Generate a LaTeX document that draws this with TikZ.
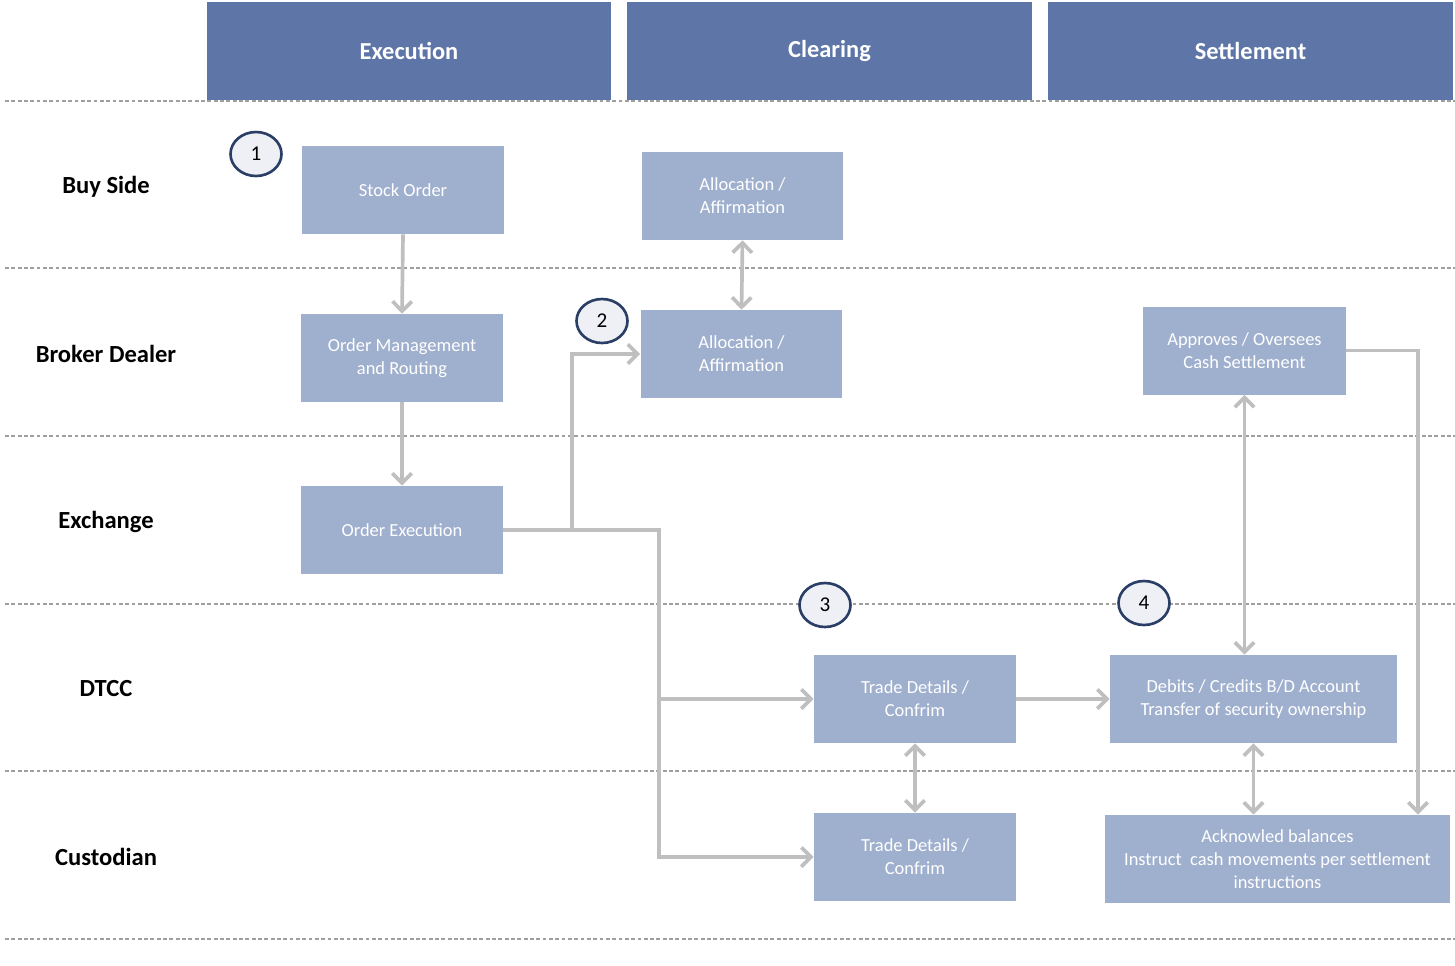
\documentclass[tikz,border=0pt]{standalone}
\usepackage{fontspec}
\setmainfont{Carlito}
\usetikzlibrary{arrows.meta, positioning, shapes.geometric}

\definecolor{headblue}{RGB}{94,117,168}
\definecolor{boxblue}{RGB}{159,175,206}
\definecolor{flowgray}{RGB}{191,191,191}
\definecolor{ringnavy}{RGB}{43,63,102}
\definecolor{ringfill}{RGB}{238,240,246}

\tikzset{
  header/.style={rectangle, fill=headblue, text=white, font=\bfseries\fontsize{13.9}{16}\selectfont,
    minimum width=8.1cm, minimum height=1.96cm, inner sep=0pt},
  lane/.style={font=\bfseries\fontsize{14}{16}\selectfont, text=black},
  procbox/.style={rectangle, fill=boxblue, text=white, align=center, font=\fontsize{10.5}{13}\selectfont,
    minimum height=1.76cm, minimum width=4.04cm, inner sep=0pt},
  stepmark/.style={ellipse, draw=ringnavy, fill=ringfill, line width=1.5pt, minimum width=1.02cm,
    minimum height=0.88cm, inner sep=0pt, font=\fontsize{12}{14}\selectfont},
  divider/.style={draw=gray!75, dash pattern=on 2.2pt off 1.4pt, line width=0.6pt},
  flow/.style={draw=flowgray, line width=2.1pt, -{Straight Barb[length=5.5pt, width=11pt]}},
  bothflow/.style={flow, {Straight Barb[length=5.5pt, width=11pt]}-{Straight Barb[length=5.5pt, width=11pt]}},
}

\begin{document}
\begin{tikzpicture}[x=0.02cm, y=-0.02cm]
  \useasboundingbox (0,0) rectangle (1455,965);

  %► Lane dividers
  \foreach \ly in {101,268,436,604,771,939}
    \draw[divider] (5,\ly) -- (1455,\ly);

  %► Phase headers
  \node[header] (hexe) at (409,51)    {Execution};
  \node[header] (hclr) at (829.5,51)  {Clearing};
  \node[header] (hset) at (1250.5,51) {Settlement};

  %► Lane labels
  \node[lane] (lbuy)  at (106,187) {Buy Side};
  \node[lane] (lbrk)  at (106,354) {Broker Dealer};
  \node[lane] (lexch) at (106,522) {Exchange};
  \node[lane] (ldtcc) at (106,689) {DTCC};
  \node[lane] (lcust) at (106,857) {Custodian};

  %► Process boxes
  \node[procbox] (so) at (403,190)   {Stock Order};
  \node[procbox] (om) at (402,358)   {Order Management\\and Routing};
  \node[procbox] (oe) at (402,530)   {Order Execution};
  \node[procbox] (at) at (742.5,196) {Allocation /\\Affirmation};
  \node[procbox] (ab) at (741.5,354) {Allocation /\\Affirmation};
  \node[procbox, minimum width=4.06cm] (ap) at (1244.5,350.5) {Approves / Oversees\\Cash Settlement};
  \node[procbox] (td) at (915,699)   {Trade Details /\\Confrim};
  \node[procbox, minimum width=5.74cm] (db) at (1253.5,699) {Debits / Credits B/D Account\\Transfer of security ownership};
  \node[procbox] (tc) at (915,857)   {Trade Details /\\Confrim};
  \node[procbox, minimum width=6.9cm] (ak) at (1277.5,859) {Acknowled balances\\Instruct\ \ cash movements per settlement\\instructions};

  %► Fork points
  \coordinate (forkA) at (572,530);
  \coordinate (forkB) at (659,530);
  \coordinate (turnC) at (1418,350.5);

  %► Connectors
  \draw[flow] (so.south) -- (om.north);
  \draw[flow] (om.south) -- (oe.north);
  \draw[bothflow] (at.south) -- (ab.north);
  \draw[flow] (oe.east) -- (forkA) |- (ab.west);
  \draw[flow] (forkA) -- (forkB) |- (tc.west);
  \draw[flow] (forkB) |- (td.west);
  \draw[flow] (td.east) -- (db.west);
  \draw[bothflow] (td.south) -- (tc.north);
  \draw[bothflow] (ap.south) -- (ap.south |- db.north);
  \draw[bothflow] (db.south) -- (db.south |- ak.north);
  \draw[flow] (ap.east) -- (turnC) -- (turnC |- ak.north);

  %► Step markers
  \node[stepmark] (s1) at (256,154) {1};
  \node[stepmark] (s2) at (602,321) {2};
  \node[stepmark] (s3) at (825,605) {3};
  \node[stepmark] (s4) at (1144,603) {4};
\end{tikzpicture}
\end{document}
